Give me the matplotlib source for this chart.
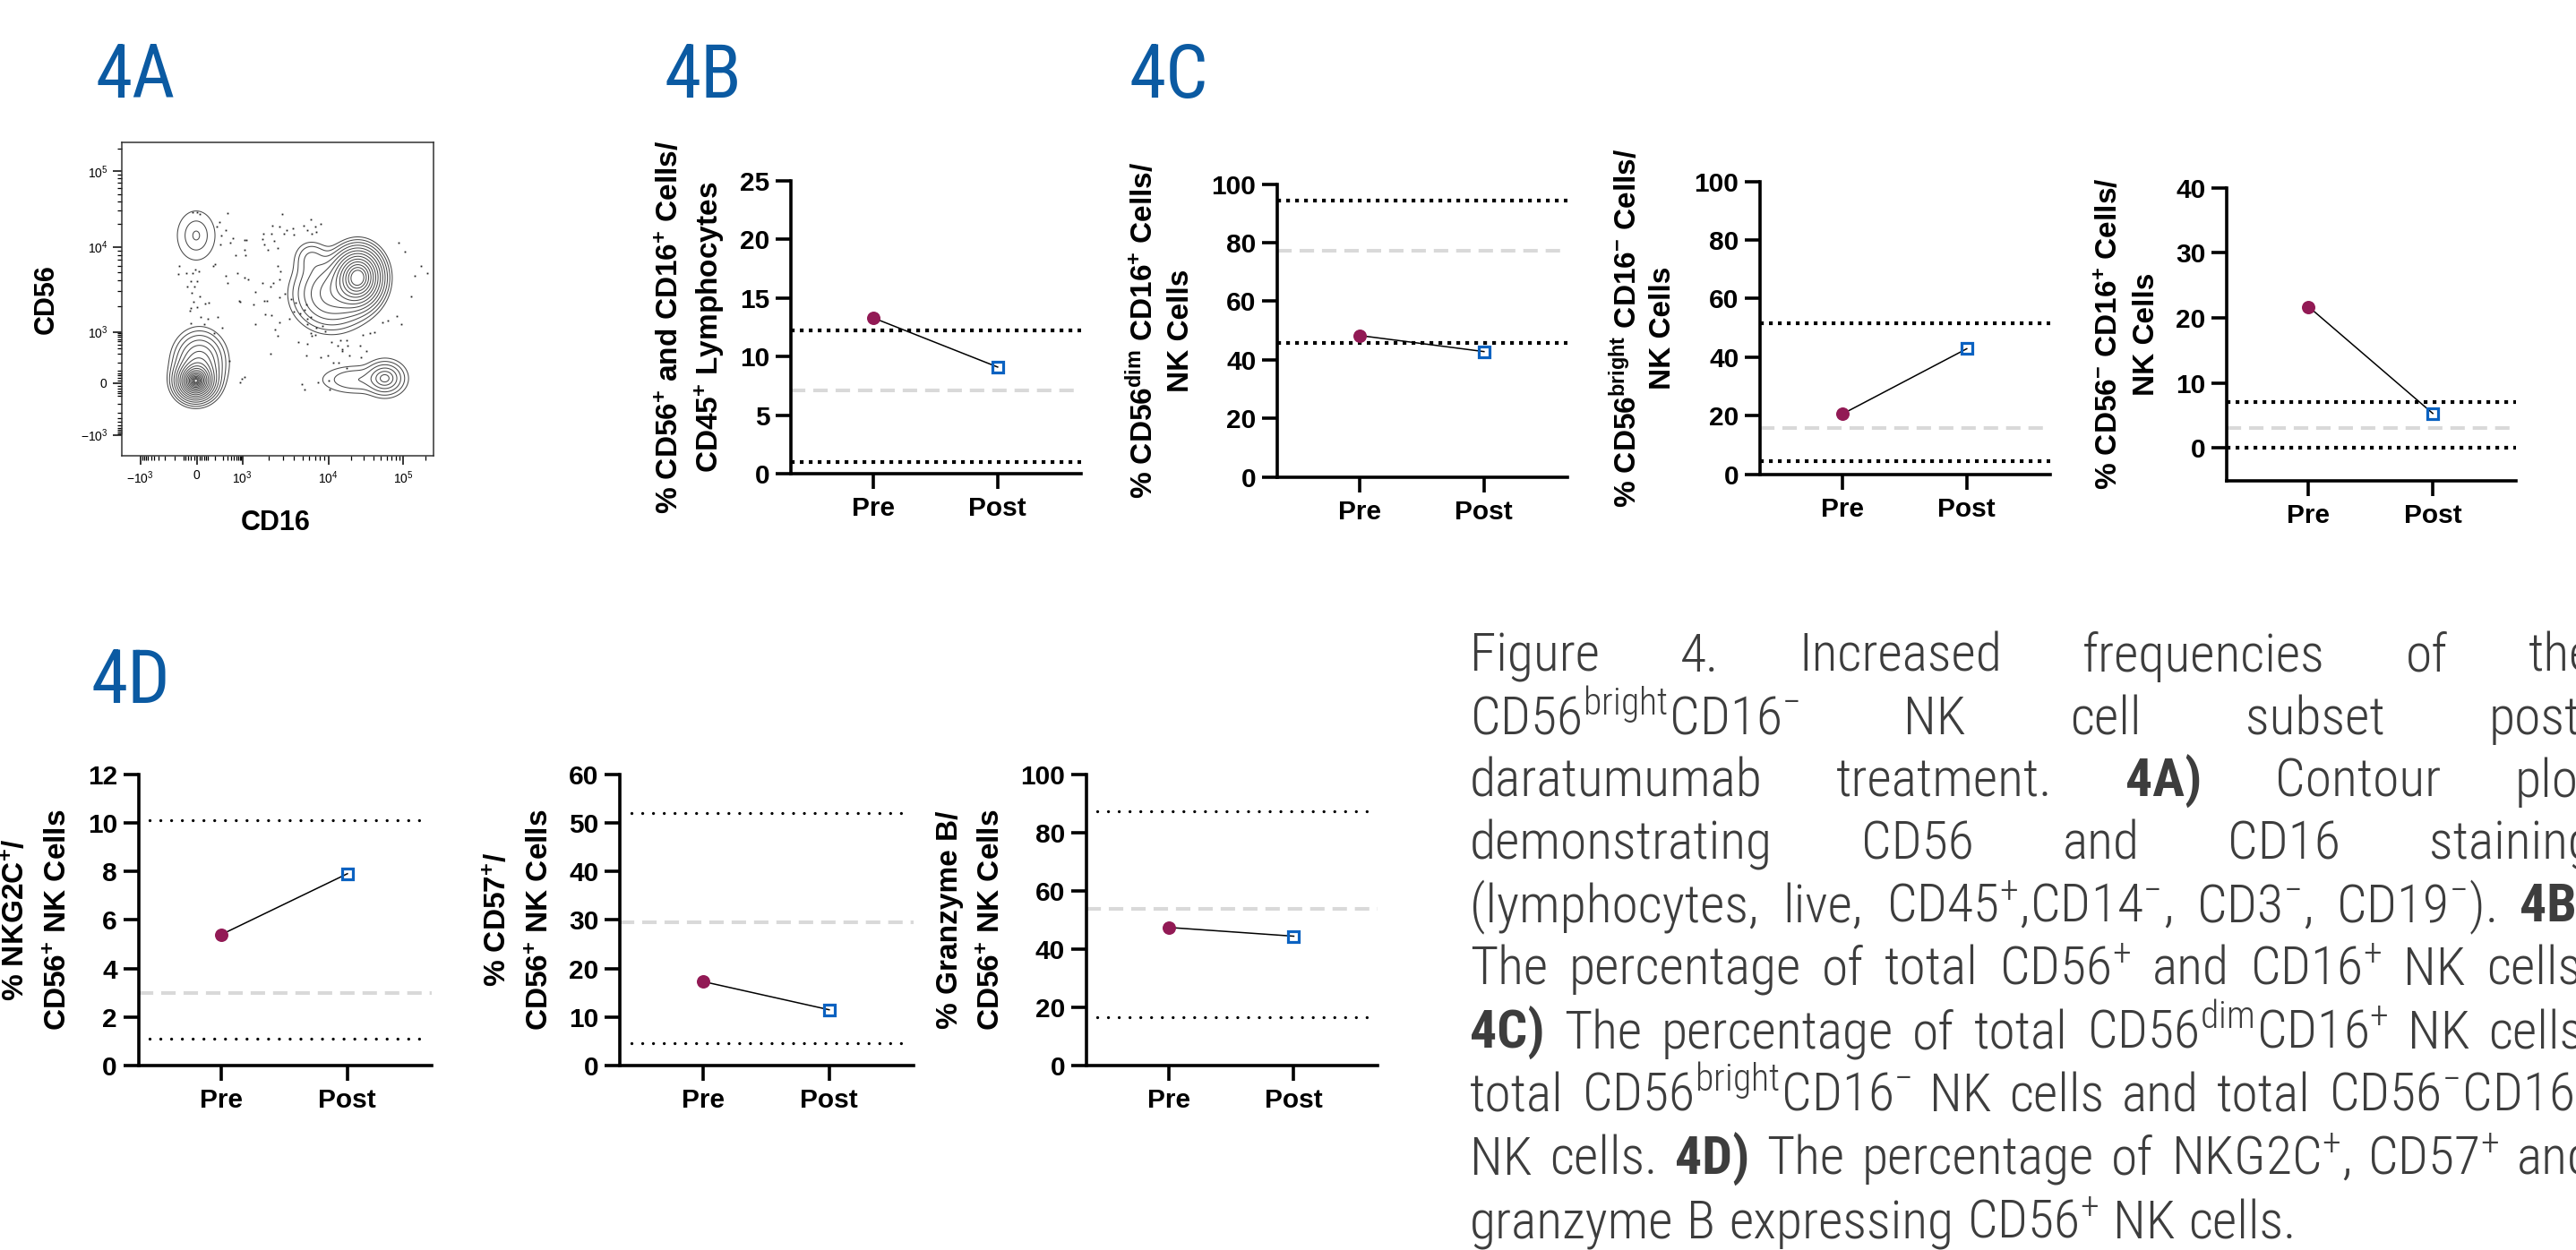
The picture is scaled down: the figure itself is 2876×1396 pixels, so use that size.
import numpy as np
import matplotlib
matplotlib.use("Agg")
from matplotlib import pyplot as plt
from matplotlib import font_manager

W, H = 2876, 1396  # output size in pixels (dpi 100)

# ---------------- data: paired Pre/Post panels 4B-4D ----------------
panel_names = ["4B", "4C dim", "4C bright", "4C neg", "4D NKG2C", "4D CD57", "4D GzmB"]
groups = ["Pre", "Post"]
pre_values = [13.3, 48.3, 20.6, 21.7, 5.4, 17.3, 47.4]
post_values = [9.1, 42.8, 42.9, 5.3, 7.9, 11.5, 44.4]
upper_normal = [12.2, 94.4, 51.7, 7.1, 10.1, 51.9, 87.2]   # dotted lines
lower_normal = [1.0, 45.7, 4.4, 0.0, 1.1, 4.7, 16.7]      # dotted lines
mean_normal = [7.1, 77.4, 15.9, 3.0, 3.0, 29.5, 53.8]     # grey dashed line
y_min = [0, 0, 0, -5, 0, 0, 0]
y_max = [25, 100, 100, 40, 12, 60, 100]
y_step = [5, 20, 20, 10, 2, 10, 20]
y_titles = [
    ("% CD56$^{+}$ and CD16$^{+}$ Cells/", "CD45$^{+}$ Lymphocytes"),
    ("% CD56$^{\\mathrm{dim}}$ CD16$^{+}$ Cells/", "NK Cells"),
    ("% CD56$^{\\mathrm{bright}}$ CD16$^{-}$ Cells/", "NK Cells"),
    ("% CD56$^{-}$ CD16$^{+}$ Cells/", "NK Cells"),
    ("% NKG2C$^{+}$/", "CD56$^{+}$ NK Cells"),
    ("% CD57$^{+}$/", "CD56$^{+}$ NK Cells"),
    ("% Granzyme B/", "CD56$^{+}$ NK Cells"),
]

# ---------------- data: 4A flow plot (display channel units) ----------------
facs_x_ticks = [470, 660, 812, 1100, 1350]
facs_x_labels = ["-10^{3}", "0", "10^{3}", "10^{4}", "10^{5}"]
facs_y_ticks = [483, 697, 937, 1082, 1228]
facs_y_labels = ["10^{5}", "10^{4}", "10^{3}", "0", "-10^{3}"]
# populations: (centre x, centre y, spread x, spread y, weight) components
pop_components = [
    [(657, 665, 30, 33, 1.0)],                                             # CD56bright CD16-
    [(655, 1078, 33, 27, 1.0), (668, 1022, 44, 44, 0.3)],                  # CD56- CD16-
    [(1200, 782, 42, 42, 1.0), (1110, 830, 70, 55, 0.25), (1040, 725, 35, 30, 0.06)],  # CD56dim CD16+
    [(1290, 1068, 30, 22, 1.0), (1195, 1072, 60, 20, 0.22)],               # CD56- CD16+
]
pop_rings = [3, 18, 13, 6]
pop_outer = [2.1, 2.8, 2.7, 2.6]
pop_spacing = [1.0, 1.7, 1.0, 1.0]
dots_x = [645, 660, 668, 763, 735, 725, 740, 755, 772, 780, 818, 826, 790, 818, 822, 738, 720, 714,
          600, 598, 625, 645, 655, 665, 640, 628, 650, 660, 642, 670, 648, 660, 640, 636, 686, 700,
          672, 683, 640, 697, 728, 745, 716, 755, 762, 795, 830, 818, 800, 805, 855, 850, 855, 810,
          805, 820, 767,
          882, 878, 885, 913, 908, 898, 918, 930, 945, 937, 950, 960, 980, 1018, 1040, 1055, 1075,
          1060, 1045, 1030, 985, 930, 940, 935, 915, 905, 880, 885, 893, 935, 955, 975, 990, 985,
          970, 1005, 1020, 1025, 1030, 1040, 888, 910, 935, 920, 930, 998, 1028, 1030, 1040, 1045,
          1055, 1060, 1080, 1090, 1110, 1130, 1145, 1160, 1165, 1140, 1205, 1215, 1240, 1255, 1228,
          1210, 1170, 1145, 1098, 1075, 1025, 1115, 1135, 1160, 905, 1010, 1020, 1065, 1100, 1105,
          1335, 1355, 1410, 1390, 1432, 1378, 1330, 1300, 1280, 1345]
dots_y = [600, 598, 605, 602, 628, 640, 665, 650, 685, 672, 678, 678, 720, 705, 720, 690, 745, 752,
          750, 773, 770, 770, 760, 765, 795, 808, 810, 795, 828, 838, 852, 868, 870, 878, 858, 855,
          895, 915, 912, 900, 895, 925, 940, 780, 800, 770, 790, 785, 850, 852, 825, 860, 915, 1070,
          1080, 1065, 1020,
          660, 675, 690, 637, 660, 705, 680, 700, 605, 640, 660, 650, 645, 637, 620, 640, 632,
          655, 660, 650, 663, 750, 765, 790, 800, 810, 800, 850, 850, 840, 830, 845, 855, 880,
          900, 885, 875, 860, 900, 895, 888, 890, 910, 930, 948, 965, 970, 915, 940, 948,
          945, 925, 920, 935, 965, 975, 985, 960, 975, 960, 975, 945, 940, 938, 992,
          1008, 1005, 990, 1005, 1010, 1005, 1025, 1025, 1040, 1000, 1085, 1100, 1080, 1075, 1100,
          685, 710, 750, 778, 770, 838, 892, 905, 910, 915]

# ---------------- caption ----------------
caption_lines = [
    ["Figure", "4.", "Increased", "frequencies", "of", "the"],
    ["CD56$^{\\mathsf{bright}}$CD16$^{\\mathsf{-}}$", "NK", "cell", "subset", "post-"],
    ["daratumumab", "treatment.", "4A)", "Contour", "plot"],
    ["demonstrating", "CD56", "and", "CD16", "staining"],
    ["(lymphocytes,", "live,", "CD45$^{\\mathsf{+}}$,CD14$^{\\mathsf{-}}$,", "CD3$^{\\mathsf{-}}$,",
     "CD19$^{\\mathsf{-}}$).", "4B)"],
    ["The", "percentage", "of", "total", "CD56$^{\\mathsf{+}}$", "and", "CD16$^{\\mathsf{+}}$", "NK", "cells."],
    ["4C)", "The", "percentage", "of", "total", "CD56$^{\\mathsf{dim}}$CD16$^{\\mathsf{+}}$", "NK", "cells,"],
    ["total", "CD56$^{\\mathsf{bright}}$CD16$^{\\mathsf{-}}$", "NK", "cells", "and", "total",
     "CD56$^{\\mathsf{-}}$CD16$^{\\mathsf{+}}$"],
    ["NK", "cells.", "4D)", "The", "percentage", "of", "NKG2C$^{\\mathsf{+}}$,", "CD57$^{\\mathsf{+}}$", "and"],
    ["granzyme", "B", "expressing", "CD56$^{\\mathsf{+}}$", "NK", "cells."],
]
bold_words = {"4A)", "4B)", "4C)", "4D)"}

# ---------------- fonts ----------------
installed = {f.name for f in font_manager.fontManager.ttflist}
cap_font = next((f for f in ["Liberation Sans Narrow", "Roboto Condensed", "Open Sans Condensed", "Lato"]
                 if f in installed), "DejaVu Sans")
plt.rcParams["font.family"] = ["Liberation Sans", "DejaVu Sans"]
plt.rcParams["font.weight"] = "bold"
plt.rcParams["mathtext.fontset"] = "custom"
plt.rcParams["mathtext.rm"] = "Liberation Sans:bold"
plt.rcParams["mathtext.it"] = "Liberation Sans:bold"
plt.rcParams["mathtext.bf"] = "Liberation Sans:bold"
plt.rcParams["mathtext.tt"] = "Liberation Sans:normal"
plt.rcParams["mathtext.sf"] = cap_font + ":light"
plt.rcParams["mathtext.default"] = "rm"

BLUE_TITLE = "#0b5aa2"
PRE_COLOR = "#921a55"
POST_COLOR = "#0b62c1"

fig = plt.figure(figsize=(W / 100, H / 100), dpi=100)


def px_axes(x0, y0, x1, y1):
    return fig.add_axes([x0 / W, 1 - y1 / H, (x1 - x0) / W, (y1 - y0) / H])


# panel titles
for txt, x, y in [("4A", 107, 109), ("4B", 742, 109), ("4C", 1261, 109), ("4D", 102, 785)]:
    fig.text(x / W, 1 - y / H, txt, fontsize=60, family=cap_font, weight="normal",
             color=BLUE_TITLE, va="baseline", ha="left")

# ---------------- 4A contour plot ----------------
cx = px_axes(135.7, 159, 484, 509)
cx.set_xlim(407, 1452)
cx.set_ylim(1287, 402)
gx, gy = np.meshgrid(np.linspace(407, 1452, 800), np.linspace(402, 1287, 700))
for comps, n_rings, r_out, p in zip(pop_components, pop_rings, pop_outer, pop_spacing):
    dens = sum(w * np.exp(-0.5 * (((gx - mx) / sx) ** 2 + ((gy - my) / sy) ** 2))
               for mx, my, sx, sy, w in comps)
    radii = r_out * np.linspace(0.18, 1, n_rings) ** p
    levels = np.unique(np.sort(dens.max() * np.exp(-0.5 * radii ** 2)))
    cx.contour(gx, gy, dens, levels=levels, colors="#4a4a4a", linewidths=0.75)
cx.plot(dots_x, dots_y, "s", ms=1.3, mew=0, color="#222222")


def decade(p_lo, p_hi):
    return [p_lo + (p_hi - p_lo) * np.log10(k) for k in range(2, 10)]


def near_zero(p0, p_dec):
    vals = [10, 20, 30, 40, 50] + list(range(100, 1000, 100))
    return [p0 + (p_dec - p0) * np.arcsinh(v / 50) / np.arcsinh(20) for v in vals]


x_minor = decade(812, 1100) + decade(1100, 1350) + [1350 + 250 * np.log10(2)] \
    + near_zero(660, 812) + near_zero(660, 470)
y_minor = decade(937, 697) + decade(697, 483) + [483 - 214 * np.log10(2)] \
    + near_zero(1082, 937) + near_zero(1082, 1228)
cx.set_xticks(facs_x_ticks, ["$\\mathtt{%s}$" % s for s in facs_x_labels])
cx.set_yticks(facs_y_ticks, ["$\\mathtt{%s}$" % s for s in facs_y_labels])
cx.set_xticks(x_minor, minor=True)
cx.set_yticks([v for v in y_minor if v > 402], minor=True)
cx.tick_params(which="major", length=7, width=1.1, labelsize=10, pad=4)
cx.tick_params(which="minor", length=3.6, width=0.9)
for s in cx.spines.values():
    s.set_linewidth(1.1)
    s.set_color("#333333")
fig.text(52 / W, 1 - 334 / H, "CD56", rotation=90, fontsize=22, ha="center", va="center")
fig.text(308 / W, 1 - 584 / H, "CD16", fontsize=22, ha="center", va="center")

# ---------------- paired panels ----------------
# (spine x, right end x, top y, bottom y) in pixels, then the two y-title centres
boxes = [(883, 1207, 201.7, 529.1), (1426, 1750, 205.6, 532.6), (1965, 2289, 202.5, 529.9),
         (2486, 2809, 209.6, 536.6), (154.6, 482, 864.5, 1190.1), (692.3, 1020, 864.5, 1190.1),
         (1212.7, 1538, 864.5, 1190.1)]
title_x = [(748, 792.5), (1275.7, 1318.6), (1815.7, 1856.8), (2355.5, 2396.2),
           (18, 66), (556.7, 603.3), (1060, 1107.3)]

for i in range(len(panel_names)):
    x0, x1, yt, yb = boxes[i]
    ax = px_axes(x0, yt, x1, yb)
    second_row = panel_names[i].startswith("4D")
    ax.set_xlim(0.34, 2.67)
    ax.set_ylim(y_min[i], y_max[i])
    ax.set_yticks(np.arange(0, y_max[i] + 0.01, y_step[i]))
    ax.set_xticks([1, 2], groups)
    for s in ["top", "right"]:
        ax.spines[s].set_visible(False)
    for s in ["left", "bottom"]:
        ax.spines[s].set_linewidth(2.6)
    ax.tick_params(width=2.6, length=12.5, labelsize=21.5)
    ax.tick_params(axis="x", pad=5.5)
    ax.tick_params(axis="y", pad=4.5)

    ax.plot([0.34, 2.67], [mean_normal[i]] * 2, color="#d9d9d9", lw=2.9, dashes=(4, 2.2), zorder=1)
    for v in (upper_normal[i], lower_normal[i]):
        if second_row:
            ax.plot([0.43, 2.65], [v, v], color="black", lw=2.4, dashes=(0.01, 3.6),
                    dash_capstyle="round", zorder=2)
        else:
            ax.plot([0.34, 2.67], [v, v], color="black", lw=3.0, dashes=(1, 1.4), zorder=2)
    ax.plot([1, 2], [pre_values[i], post_values[i]], color="black", lw=1.1, zorder=3)
    ax.plot(1, pre_values[i], "o", ms=10.8, color=PRE_COLOR, mew=0, zorder=4)
    ax.plot(2, post_values[i], "s", ms=9, mfc="none", mec=POST_COLOR, mew=2.3, zorder=4)

    yc = (yt + yb) / 2
    for line, lx in zip(y_titles[i], title_x[i]):
        fig.text(lx / W, 1 - yc / H, line, rotation=90, fontsize=24, ha="center", va="center")

# ---------------- caption (justified) ----------------
cap_left, cap_right = 1641, 2896
cap_baselines = [750, 820, 890, 960, 1030, 1100, 1171, 1241, 1312, 1383]
renderer = fig.canvas.get_renderer()
cap_size = 40
probe = fig.text(0, 0, " ".join(caption_lines[5]), fontsize=cap_size, family=cap_font, weight="light")
natural = probe.get_window_extent(renderer).width
probe.remove()
cap_size = min(43, cap_size * 1245 / natural)

for li, (words, base) in enumerate(zip(caption_lines, cap_baselines)):
    texts = [fig.text(0, 1 - base / H, w, fontsize=cap_size, family=cap_font,
                      weight="bold" if w in bold_words else "light",
                      color="#3d3d3d", va="baseline", ha="left") for w in words]
    widths = [t.get_window_extent(renderer).width for t in texts]
    if li < len(caption_lines) - 1:
        gap = (cap_right - cap_left - sum(widths)) / (len(words) - 1)
    else:
        gap = 0.25 * cap_size * 100 / 72
    x = cap_left
    for t, w in zip(texts, widths):
        t.set_x(x / W)
        x += w + gap

fig.savefig("out.png", dpi=100)
